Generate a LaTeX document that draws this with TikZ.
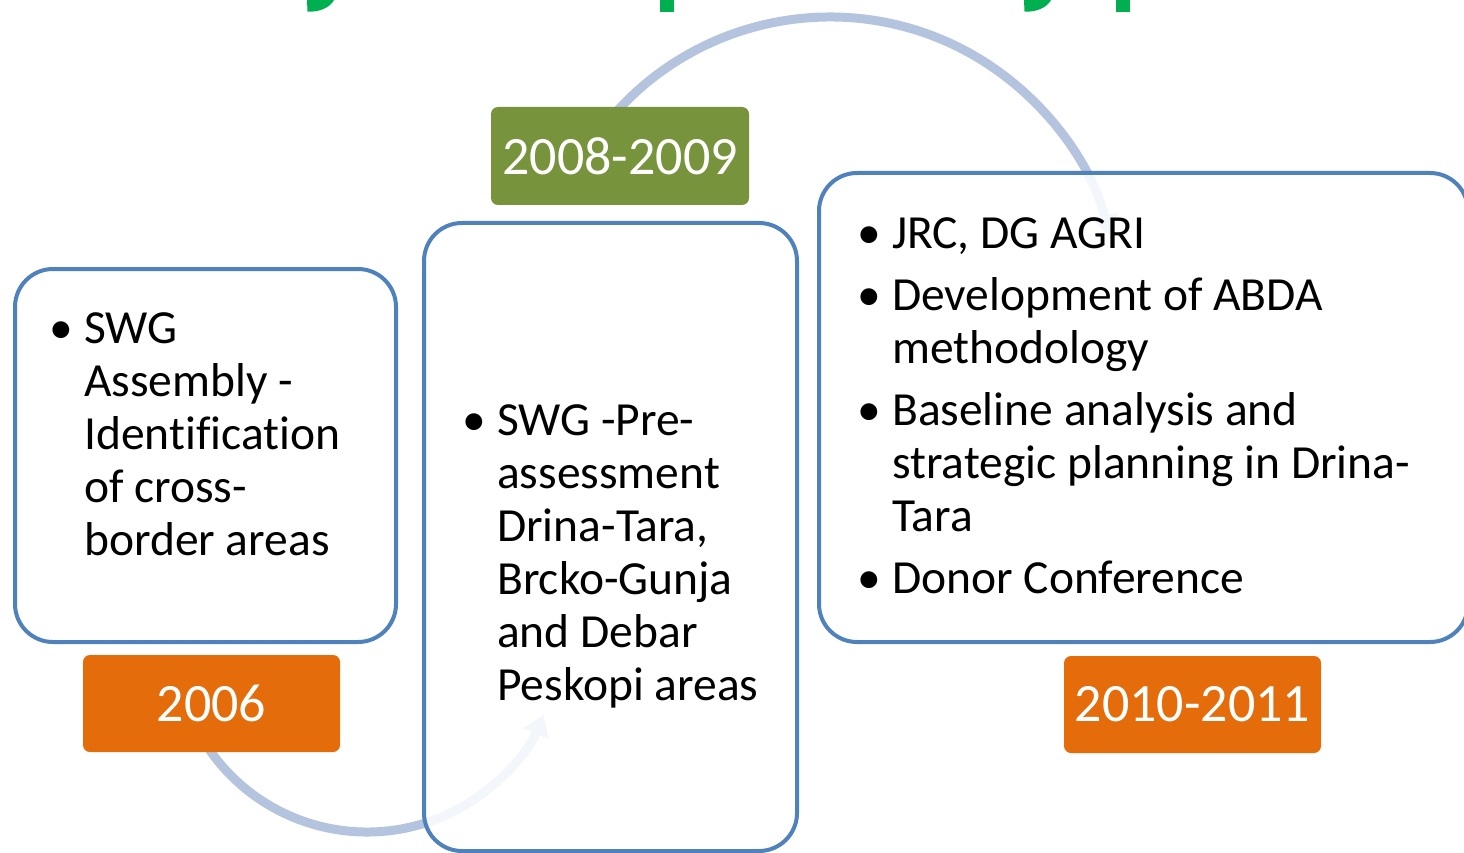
\documentclass[tikz,border=0pt]{standalone}
\usepackage{fontspec}
\setmainfont{Carlito}[Ligatures={NoCommon}]
\usetikzlibrary{calc,arrows.meta}
\definecolor{boxblue}{RGB}{79,129,189}
\definecolor{yrorange}{RGB}{228,108,10}
\definecolor{yrgreen}{RGB}{119,147,60}
\definecolor{arcblue}{RGB}{180,195,222}
\definecolor{titlegreen}{RGB}{0,176,80}
\newcommand{\bodysize}{\fontsize{47.5}{53}\selectfont}
\newcommand{\bitem}[2]{\par\noindent\hangindent=#1\hangafter=1\makebox[#1][l]{\textbullet}#2\par}
\newcommand{\blist}[1]{\vtop{\hsize=620pt\parindent=0pt\bodysize\raggedright\parskip=9pt #1}}
\tikzset{
  bigbox/.style={draw=boxblue, line width=4pt, fill=white, fill opacity=0.85, draw opacity=1, rounded corners=38pt, inner sep=0pt},
  yearbox/.style={rounded corners=7pt, inner sep=0pt, text=white, font=\fontsize{54}{60}\selectfont},
  arcline/.style={draw=arcblue, line width=9pt},
  arctip/.style={-{Triangle[width=26pt,length=20pt]}},
  bodytext/.style={anchor=base west, inner sep=0pt, text=black}
}
\begin{document}
\begin{tikzpicture}[x=1pt,y=-1pt]
\useasboundingbox (0,0) rectangle (1464,853);
% fragments of the cut-off title
\fill[titlegreen] (307,0) -- (307.5,11.5) .. controls (318,12.5) and (330,8) .. (334,0) -- cycle;
\fill[titlegreen] (1024,0) -- (1024.5,11.5) .. controls (1035,12.5) and (1047,8) .. (1051,0) -- cycle;
\fill[titlegreen] (660,0) rectangle (674,12);
\fill[titlegreen] (1116,0) rectangle (1130,12);
% arcs
\coordinate (uc) at (830,305);
\coordinate (lc) at (367,640);
\coordinate (ustart) at ($(uc)+(215:288)$);
\coordinate (lstart) at ($(lc)+(150:192)$);
\draw[arcline, arctip] (ustart) arc[start angle=215, end angle=346, radius=288];
\draw[arcline, arctip] (lstart) arc[start angle=150, end angle=23, radius=192];
% big boxes
\node[bigbox, minimum width=381pt, minimum height=373pt] (b1) at (205.5,455.5) {};
\node[bigbox, minimum width=373pt, minimum height=628pt] (b2) at (610.5,537) {};
\node[bigbox, minimum width=649pt, minimum height=469pt] (b3) at (1143.5,407.5) {};
% year labels
\node[yearbox, fill=yrorange, minimum width=257pt, minimum height=97pt] (y1) at (211.5,703.5) {2006};
\node[yearbox, fill=yrgreen, minimum width=258pt, minimum height=98pt] (y2) at (620,156) {2008-2009};
\node[yearbox, fill=yrorange, minimum width=257pt, minimum height=97pt] (y3) at (1192.5,704.5) {2010-2011};
% texts
\node[bodytext] (t1) at (49,343) {\blist{\bitem{35pt}{SWG\newline Assembly -\newline Identification\newline of cross-\newline border areas}}};
\node[bodytext] (t2) at (462,435) {\blist{\bitem{35pt}{SWG -Pre-\newline assessment\newline Drina-Tara,\newline Brcko-Gunja\newline and Debar\newline Peskopi areas}}};
\node[bodytext] (t3) at (857,248) {\blist{%
\bitem{35pt}{JRC, DG AGRI}%
\bitem{35pt}{Development of ABDA\newline methodology}%
\bitem{35pt}{Baseline analysis and\newline strategic planning in Drina-\newline Tara}%
\bitem{35pt}{Donor Conference}}};
\end{tikzpicture}
\end{document}
